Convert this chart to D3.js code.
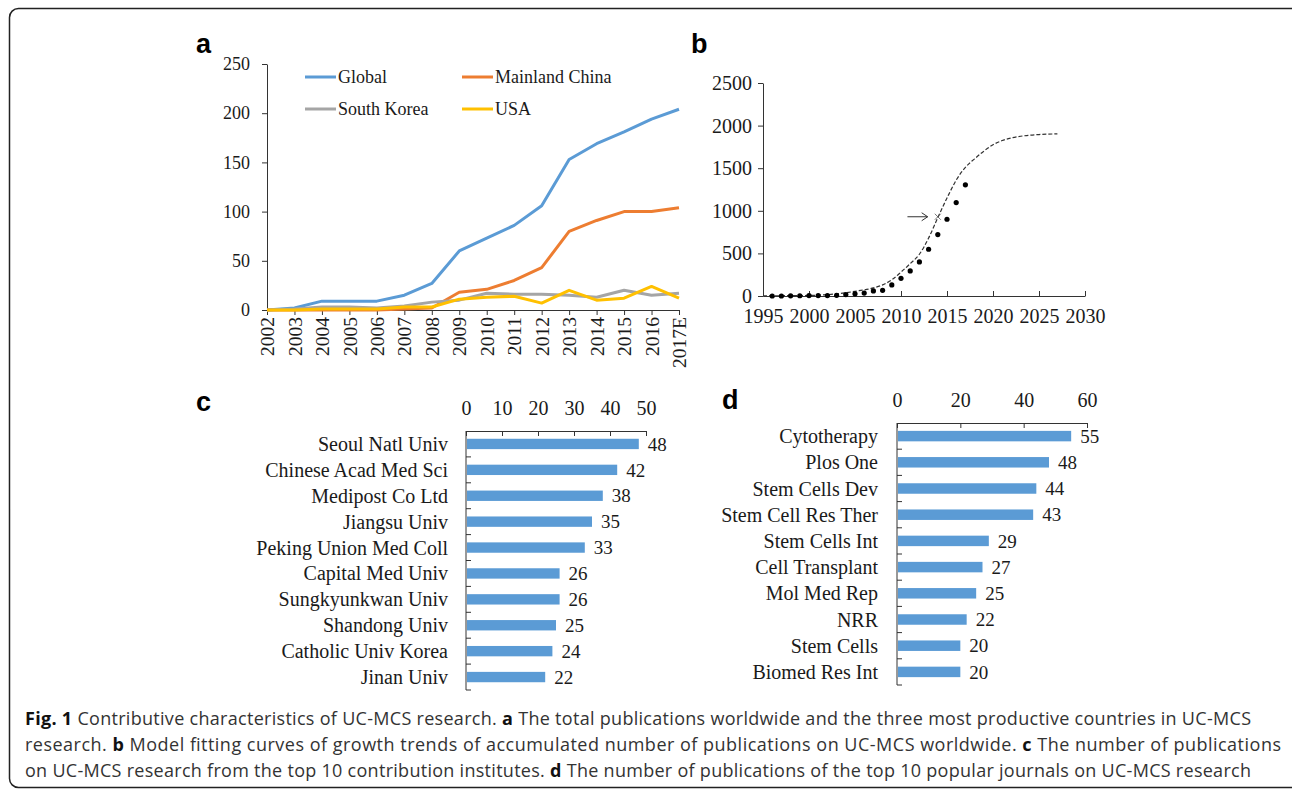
<!DOCTYPE html>
<html>
<head>
<meta charset="utf-8">
<script src="https://cdn.jsdelivr.net/npm/d3@7"></script>
<style>
  body { margin: 0; background: #fff; }
  .serif { font-family: "Liberation Serif", "Times New Roman", serif; fill: #1a1a1a; }
  .axis path, .axis line { stroke: #333; }
  .axis text { font-family: "Liberation Serif", "Times New Roman", serif; fill: #1a1a1a; }
</style>
</head>
<body>
<div id="chart"></div>
<script>
// panel a: yearly publications
const years = ["2002","2003","2004","2005","2006","2007","2008","2009","2010","2011","2012","2013","2014","2015","2016","2017E"];
const globalPubs = [0, 2, 9, 9, 9, 15, 27, 60, 73, 86, 106, 153, 169, 181, 194, 204];
const chinaPubs  = [0, 0, 0, 0, 0, 1, 2, 18, 21, 30, 43, 80, 91, 100, 100, 104];
const koreaPubs  = [0, 1, 3, 3, 2, 4, 8, 10, 17, 16, 16, 15, 13, 20, 15, 17];
const usaPubs    = [0, 0, 1, 1, 1, 3, 3, 11, 13, 14, 7, 20, 10, 12, 24, 12];

// panel b: accumulated publications and fitted curve
const cumYears = [1996,1997,1998,1999,2000,2001,2002,2003,2004,2005,2006,2007,2008,2009,2010,2011,2012,2013,2014,2015,2016,2017];
const cumPubs  = [0, 0, 2, 3, 5, 5, 5, 8, 17, 25, 34, 60, 67, 130, 208, 294, 400, 549, 721, 901, 1097, 1305];
const fitYears = [1995,1997,1999,2001,2003,2005,2007,2008,2009,2010,2011,2012,2013,2014,2015,2016,2017,2018,2019,2020,2021,2022,2023,2024,2025,2026,2027];
const fitPubs  = [2, 3, 5, 10, 25, 55, 95, 130, 190, 280, 380, 490, 680, 920, 1150, 1360, 1510, 1610, 1700, 1775, 1825, 1855, 1875, 1888, 1895, 1900, 1903];

// panel c: top institutes
const institutes = ["Seoul Natl Univ","Chinese Acad Med Sci","Medipost Co Ltd","Jiangsu Univ","Peking Union Med Coll","Capital Med Univ","Sungkyunkwan Univ","Shandong Univ","Catholic Univ Korea","Jinan Univ"];
const institutePubs = [48, 42, 38, 35, 33, 26, 26, 25, 24, 22];

// panel d: top journals
const journals = ["Cytotherapy","Plos One","Stem Cells Dev","Stem Cell Res Ther","Stem Cells Int","Cell Transplant","Mol Med Rep","NRR","Stem Cells","Biomed Res Int"];
const journalPubs = [55, 48, 44, 43, 29, 27, 25, 22, 20, 20];

const W = 1292, H = 789;
const svg = d3.select("#chart").append("svg").attr("width", W).attr("height", H);

// outer frame
svg.append("rect")
  .attr("x", 9.5).attr("y", 8.5).attr("width", 1290).attr("height", 779)
  .attr("rx", 9).attr("fill", "none").attr("stroke", "#222").attr("stroke-width", 1.5);

function panelLetter(t, x, y) {
  svg.append("text").attr("x", x).attr("y", y)
    .style("font-family", "Liberation Sans, Arial, sans-serif")
    .style("font-weight", "bold").style("font-size", "27px").attr("fill", "#000")
    .text(t);
}

// ---------- panel a ----------
panelLetter("a", 196, 53);
const xa = d3.scalePoint().domain(years).range([267, 679]);
const ya = d3.scaleLinear().domain([0, 250]).range([310, 64]);

svg.append("g").attr("class", "axis").attr("transform", "translate(267,0)")
  .call(d3.axisLeft(ya).tickValues([0, 50, 100, 150, 200, 250]).tickSize(5).tickSizeOuter(0).tickPadding(12))
  .call(g => g.selectAll("text").style("font-size", "18px"));

const axA = svg.append("g").attr("class", "axis").attr("transform", "translate(0,310)")
  .call(d3.axisBottom(xa).tickSize(5).tickSizeOuter(0));
axA.selectAll("text").style("font-size", "19.5px")
  .attr("transform", "rotate(-90)").attr("text-anchor", "end")
  .attr("x", -7).attr("y", 0).attr("dy", "0.34em");

const seriesA = [
  { name: "Global", values: globalPubs, color: "#5b9bd5" },
  { name: "Mainland China", values: chinaPubs, color: "#ed7d31" },
  { name: "South Korea", values: koreaPubs, color: "#a5a5a5" },
  { name: "USA", values: usaPubs, color: "#ffc000" }
];
const lineA = d3.line().x((d, i) => xa(years[i])).y(d => ya(d));
seriesA.forEach(s => {
  svg.append("path").datum(s.values).attr("d", lineA)
    .attr("fill", "none").attr("stroke", s.color).attr("stroke-width", 3)
    .attr("stroke-linejoin", "round");
});

// legend
const legPos = [[305, 77], [462, 77], [305, 109], [462, 109]];
seriesA.forEach((s, i) => {
  const [lx, ly] = legPos[i];
  svg.append("line").attr("x1", lx).attr("x2", lx + 31).attr("y1", ly).attr("y2", ly)
    .attr("stroke", s.color).attr("stroke-width", 3);
  svg.append("text").attr("class", "serif").attr("x", lx + 33).attr("y", ly + 6)
    .style("font-size", "18px").text(s.name);
});

// ---------- panel b ----------
panelLetter("b", 691, 53);
const xb = d3.scaleLinear().domain([1995, 2030]).range([763, 1085]);
const yb = d3.scaleLinear().domain([0, 2500]).range([296, 83]);

svg.append("g").attr("class", "axis").attr("transform", "translate(763,0)")
  .call(d3.axisLeft(yb).tickValues([0, 500, 1000, 1500, 2000, 2500]).tickFormat(d3.format("d")).tickSize(5).tickSizeOuter(0).tickPadding(6))
  .call(g => g.selectAll("text").style("font-size", "20px"));
svg.append("g").attr("class", "axis").attr("transform", "translate(0,296)")
  .call(d3.axisBottom(xb).tickValues(d3.range(1995, 2031, 5)).tickFormat(d3.format("d")).tickSize(-5).tickSizeOuter(0).tickPadding(13))
  .call(g => g.selectAll("text").style("font-size", "20px"));

svg.append("path").datum(fitYears.map((y, i) => [y, fitPubs[i]]))
  .attr("d", d3.line().x(d => xb(d[0])).y(d => yb(d[1])).curve(d3.curveMonotoneX))
  .attr("fill", "none").attr("stroke", "#333").attr("stroke-width", 1.2).attr("stroke-dasharray", "4,2");

svg.selectAll(".dotb").data(cumYears).enter().append("circle")
  .attr("cx", d => xb(d)).attr("cy", (d, i) => yb(cumPubs[i])).attr("r", 2.6).attr("fill", "#000");

// arrow to inflection point
const arrowY = yb(930);
svg.append("line").attr("x1", xb(2010.7)).attr("x2", xb(2012.9)).attr("y1", arrowY).attr("y2", arrowY)
  .attr("stroke", "#333").attr("stroke-width", 1);
svg.append("path")
  .attr("d", `M${xb(2012.9) - 6},${arrowY - 4} L${xb(2012.9)},${arrowY} L${xb(2012.9) - 6},${arrowY + 4}`)
  .attr("fill", "none").attr("stroke", "#333").attr("stroke-width", 1);
svg.append("path")
  .attr("d", `M${xb(2014) - 3},${arrowY - 3} L${xb(2014) + 3},${arrowY + 3} M${xb(2014) - 3},${arrowY + 3} L${xb(2014) + 3},${arrowY - 3}`)
  .attr("stroke", "#555").attr("stroke-width", 0.8);

// ---------- bar panels ----------
function barPanel(cats, vals, x0, x1, maxV, ticks, yTop, yBot, labelRight) {
  const x = d3.scaleLinear().domain([0, maxV]).range([x0, x1]);
  const y = d3.scaleBand().domain(cats).range([yTop, yBot]).paddingInner(0.6).paddingOuter(0.3);
  const yb2 = d3.scaleBand().domain(cats).range([yTop, yBot]);

  svg.append("g").attr("class", "axis").attr("transform", `translate(0,${yTop})`)
    .call(d3.axisTop(x).tickValues(ticks).tickSize(-5).tickSizeOuter(0).tickPadding(16))
    .call(g => g.selectAll("text").style("font-size", "20px"));

  svg.append("g").selectAll("rect").data(cats).enter().append("rect")
    .attr("x", x(0) + 1).attr("y", d => y(d))
    .attr("width", (d, i) => x(vals[i]) - x(0) - 1).attr("height", y.bandwidth())
    .attr("fill", "#5b9bd5");

  // left axis with ticks at category boundaries
  svg.append("line").attr("x1", x0).attr("x2", x0).attr("y1", yTop).attr("y2", yBot)
    .attr("stroke", "#333");
  svg.append("g").selectAll("line").data(cats).enter().append("line")
    .attr("x1", x0).attr("x2", x0 + 5)
    .attr("y1", d => yb2(d) + yb2.bandwidth())
    .attr("y2", d => yb2(d) + yb2.bandwidth())
    .attr("stroke", "#333");

  svg.append("g").selectAll("text").data(cats).enter().append("text")
    .attr("class", "serif").attr("x", labelRight).attr("y", d => y(d) + y.bandwidth() / 2)
    .attr("dy", "0.35em").attr("text-anchor", "end").style("font-size", "20px").text(d => d);

  svg.append("g").selectAll("text").data(cats).enter().append("text")
    .attr("class", "serif").attr("x", (d, i) => x(vals[i]) + 9).attr("y", d => y(d) + y.bandwidth() / 2)
    .attr("dy", "0.35em").style("font-size", "19px").text((d, i) => vals[i]);
}

panelLetter("c", 196, 411);
barPanel(institutes, institutePubs, 466, 646, 50, [0, 10, 20, 30, 40, 50], 431, 690, 448);

panelLetter("d", 722, 409);
barPanel(journals, journalPubs, 897, 1087, 60, [0, 20, 40, 60], 423, 685, 878);

// ---------- caption ----------
const capLines = [
  { end: 1251, parts: [["Fig. 1", true], [" Contributive characteristics of UC-MCS research. ", false], ["a", true], [" The total publications worldwide and the three most productive countries in UC-MCS", false]] },
  { end: 1281, parts: [["research. ", false], ["b", true], [" Model fitting curves of growth trends of accumulated number of publications on UC-MCS worldwide. ", false], ["c", true], [" The number of publications", false]] },
  { end: 1251, parts: [["on UC-MCS research from the top 10 contribution institutes. ", false], ["d", true], [" The number of publications of the top 10 popular journals on UC-MCS research", false]] }
];
const capBase = [725, 751, 777];
capLines.forEach((ln, i) => {
  const t = svg.append("text").attr("x", 25).attr("y", capBase[i])
    .style("font-family", "Open Sans, sans-serif").style("font-size", "18px").attr("fill", "#333")
    .attr("textLength", ln.end - 25).attr("lengthAdjust", "spacing")
    .attr("xml:space", "preserve").style("white-space", "pre");
  ln.parts.forEach(p => {
    t.append("tspan").style("font-weight", p[1] ? "bold" : "normal").attr("fill", p[1] ? "#111" : "#333").text(p[0]);
  });
});
</script>
</body>
</html>
